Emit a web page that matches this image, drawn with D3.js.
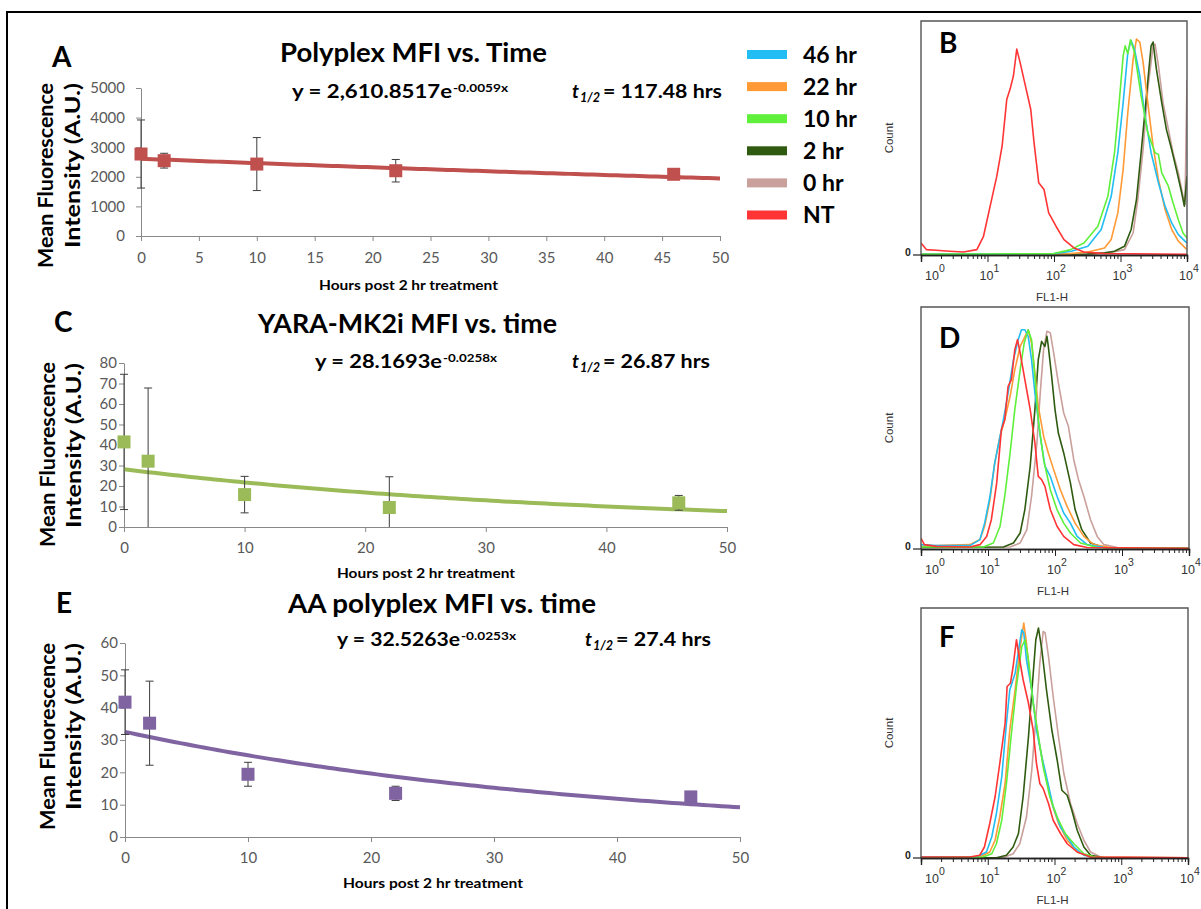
<!DOCTYPE html>
<html>
<head>
<meta charset="utf-8">
<script src="https://cdn.jsdelivr.net/npm/d3@7"></script>
<style>
  body { margin: 0; background: #fff; }
  svg { display: block; }
</style>
</head>
<body>
<svg id="fig" width="1201" height="909"></svg>
<script>
// ---------------- Time-course MFI data (hours after 2 hr treatment) ----------------
const hours = [0, 2, 10, 22, 46];

const polyplexMFI = [2770, 2545, 2430, 2205, 2085];
const polyplexSD  = [1150, 250, 895, 380, 0];
const polyplexFit = [2610.8517, 0.0059];     // y = A e^(-k x)

const mk2iMFI = [41.5, 32.1, 15.8, 9.5, 11.8];
const mk2iSD  = [33, 35.7, 8.9, 15, 3.6];
const mk2iFit = [28.1693, 0.0258];

const aaMFI = [41.7, 35.2, 19.4, 13.5, 12.4];
const aaSD  = [10, 13, 3.7, 2.2, 0.8];
const aaFit = [32.5263, 0.0253];

// ---------------- Flow cytometry histograms: [log10 FL1-H, % of max count] ----------------
const timeLabels = ["46 hr", "22 hr", "10 hr", "2 hr", "0 hr", "NT"];
const timeColors = ["#22bdf2", "#ff9a36", "#5ff03b", "#2f5b10", "#c9a09c", "#ff3434"];

// Panel B: polyplex
const bNT = [[0,5.1],[0.08,2.3],[0.23,2],[0.43,1.6],[0.64,1.3],[0.84,2.3],[0.94,8],[1.04,20.9],[1.14,33.7],[1.22,46.6],[1.29,66.6],[1.34,70.9],[1.39,76.6],[1.44,88],[1.49,82.3],[1.57,72.3],[1.65,62.3],[1.70,48],[1.77,30.9],[1.85,28],[1.92,18],[2.03,12.3],[2.15,6.6],[2.30,3],[2.45,1.3],[2.76,0.6],[4,0.3]];
const b0  = [[0,0.2],[2.5,0.3],[2.76,0.6],[3.06,2.3],[3.19,9.4],[3.26,23.7],[3.34,45.1],[3.41,70.9],[3.49,89.4],[3.52,90.1],[3.57,80.9],[3.64,65.1],[3.72,53.7],[3.79,43.7],[3.87,35.1],[3.94,25.1],[3.97,21.6],[4,75]];
const b2  = [[0,0.2],[2.5,0.4],[2.76,0.9],[2.91,1.6],[3.06,3.7],[3.16,10.9],[3.24,23.7],[3.31,43.7],[3.39,68],[3.46,89.4],[3.49,91],[3.54,79.4],[3.62,65.1],[3.69,53.7],[3.77,45],[3.84,36.6],[3.92,26.6],[3.96,20.9],[4,33.7]];
const b10 = [[0,0.3],[2,0.6],[2.25,2.3],[2.45,5.1],[2.66,12.3],[2.81,25.1],[2.91,43.7],[2.98,65.1],[3.04,85.1],[3.07,89.4],[3.11,86],[3.15,92],[3.21,86.6],[3.31,68],[3.41,52.3],[3.52,43.7],[3.57,43],[3.62,35.1],[3.72,29.4],[3.79,22.3],[3.87,15.1],[3.94,9.4],[4,7.3]];
const b22 = [[0,0.3],[2.2,0.5],[2.51,1.3],[2.76,3],[2.86,6.6],[2.96,18],[3.04,36.6],[3.11,60.9],[3.19,83.7],[3.24,92.3],[3.29,91],[3.34,82.3],[3.41,65.1],[3.49,46.6],[3.57,32.3],[3.67,19.4],[3.77,10.9],[3.87,5.9],[4,2.3]];
const b46 = [[0,0.3],[2,0.6],[2.26,1.6],[2.51,3.7],[2.71,10.9],[2.86,25.1],[2.96,43.7],[3.04,65.1],[3.11,86.6],[3.16,91.6],[3.21,88],[3.29,76.6],[3.36,60.9],[3.46,43.7],[3.57,30.9],[3.67,20.9],[3.77,13.7],[3.87,8.7],[4,5.1]];

// Panel D: YARA-MK2i
const dNT = [[0,4.5],[0.05,1.8],[0.23,1.1],[0.73,0.8],[0.88,1.8],[0.98,5.2],[1.05,12.1],[1.13,27.3],[1.2,49.3],[1.25,53.4],[1.3,67.2],[1.35,70],[1.4,82.4],[1.44,86.5],[1.48,81],[1.55,70],[1.63,57.6],[1.7,43.8],[1.75,30],[1.8,28.7],[1.85,25.9],[1.93,16.3],[2.03,9.4],[2.13,5.2],[2.28,1.8],[2.48,0.6],[4,0.3]];
const d0  = [[0,0.6],[1.33,0.8],[1.48,2.5],[1.58,8],[1.65,21.8],[1.73,43.8],[1.78,64.5],[1.83,82.4],[1.88,90],[1.93,89.3],[1.98,81],[2.05,68.6],[2.13,56.2],[2.2,50.7],[2.28,36.9],[2.35,28.7],[2.43,21.8],[2.53,12.1],[2.63,5.2],[2.73,1.8],[2.93,0.6],[4,0.3]];
const d2  = [[0,0.6],[1.23,0.8],[1.38,2.5],[1.48,6.6],[1.55,16.3],[1.63,34.2],[1.7,57.6],[1.75,78.2],[1.8,85.8],[1.85,83.7],[1.88,87.9],[1.9,83.7],[1.95,71.3],[2.0,57.6],[2.05,47.9],[2.13,39.7],[2.23,27.3],[2.3,16.3],[2.4,8],[2.53,2.5],[2.73,0.6],[4,0.3]];
const d10 = [[0,0.8],[0.93,0.8],[1.08,2.5],[1.18,9.4],[1.25,21.8],[1.33,39.7],[1.4,57.6],[1.48,74.1],[1.54,85.1],[1.6,90.6],[1.65,86.5],[1.7,71.3],[1.75,53.4],[1.83,36.9],[1.93,24.5],[2.03,16.3],[2.13,10.7],[2.23,6.6],[2.38,2.5],[2.63,0.6],[4,0.3]];
const d22 = [[0,1.1],[0.33,1.5],[0.73,1.8],[0.88,3.9],[0.95,9.4],[1.03,20.4],[1.1,35.5],[1.18,46.6],[1.25,53.4],[1.33,63.1],[1.4,74.1],[1.48,83.7],[1.53,86.5],[1.6,90.6],[1.65,85.1],[1.7,72.7],[1.75,59],[1.83,46.6],[1.9,39.7],[1.98,32.8],[2.08,24.5],[2.18,17.6],[2.3,10.7],[2.43,5.2],[2.58,1.8],[2.83,0.6],[4,0.3]];
const d46 = [[0,1.8],[0.23,1.4],[0.73,1.4],[0.88,3.9],[0.95,10.7],[1.03,21.8],[1.1,35.5],[1.18,46.6],[1.23,53.4],[1.3,64.5],[1.38,78.2],[1.45,86.5],[1.5,90.6],[1.55,90.6],[1.6,87.9],[1.65,78.2],[1.7,64.5],[1.78,46.6],[1.85,34.2],[1.93,30],[2.03,21.8],[2.13,14.9],[2.23,10.7],[2.33,5.2],[2.48,1.8],[2.73,0.6],[4,0.3]];

// Panel F: AA polyplex
const fNT = [[0,0.4],[0.73,0.4],[0.88,1.1],[0.95,4.4],[1.03,13.8],[1.11,24.5],[1.18,37.8],[1.26,53.9],[1.29,68.6],[1.34,69.9],[1.38,76.6],[1.43,87.3],[1.47,80.6],[1.53,71.3],[1.61,61.9],[1.68,51.2],[1.73,37.8],[1.78,29.8],[1.83,27.8],[1.91,21.8],[1.98,15.1],[2.09,9.8],[2.19,5.7],[2.34,2.4],[2.54,0.4],[4,0.1]];
const f0  = [[0,0.1],[1.23,0.1],[1.38,1.7],[1.48,5.7],[1.58,16.4],[1.66,35.2],[1.73,59.2],[1.78,77.9],[1.83,90.6],[1.86,90],[1.91,80.6],[1.98,64.6],[2.06,48.5],[2.14,33.8],[2.24,21.8],[2.34,13.8],[2.44,7.1],[2.54,2.4],[2.69,0.4],[4,0.1]];
const f2  = [[0,0.1],[1.13,0.1],[1.28,1.1],[1.38,4.4],[1.46,9.8],[1.53,24.5],[1.61,48.5],[1.67,69.9],[1.72,87.3],[1.76,92],[1.81,83.3],[1.88,67.2],[1.96,51.2],[2.04,39.2],[2.11,27.1],[2.19,25.1],[2.26,19.1],[2.34,11.1],[2.44,4.4],[2.54,1.1],[2.74,0.1],[4,0.1]];
const f10 = [[0,0.1],[0.93,0.4],[1.06,1.7],[1.13,5.7],[1.21,15.1],[1.28,29.8],[1.36,51.2],[1.43,68.6],[1.51,84.6],[1.56,87.3],[1.61,79.3],[1.68,61.9],[1.76,48.5],[1.83,36.5],[1.93,24.5],[2.04,16.4],[2.16,9.8],[2.29,5.7],[2.44,1.7],[2.64,0.1],[4,0.1]];
const f22 = [[0,0.4],[0.88,0.4],[1.03,2.4],[1.11,7.1],[1.18,16.4],[1.26,29.8],[1.33,51.2],[1.41,67.2],[1.48,83.3],[1.54,94],[1.58,86],[1.63,72.6],[1.71,56.6],[1.78,44.5],[1.86,33.8],[1.96,21.8],[2.06,13.8],[2.19,7.1],[2.34,2.4],[2.54,0.4],[4,0.1]];
const f46 = [[0,0.4],[0.83,0.4],[0.98,2.4],[1.06,8.4],[1.13,17.8],[1.21,32.5],[1.28,53.9],[1.33,67.2],[1.41,73.9],[1.47,84.6],[1.51,91.3],[1.54,90],[1.58,79.3],[1.66,67.2],[1.73,51.2],[1.81,40.5],[1.88,32.5],[1.98,20.5],[2.09,12.4],[2.19,8.4],[2.29,4.4],[2.44,1.1],[2.64,0.1],[4,0.1]];

// ---------------- drawing ----------------
const svg = d3.select("#fig");
const SANS = "Lato, 'Open Sans', sans-serif";
const ARIAL = "'Liberation Sans', Arial, sans-serif";

svg.append("rect").attr("width", 1201).attr("height", 909).attr("fill", "#fff");
svg.append("path").attr("d", "M7,909V12H1201")
  .attr("fill", "none").attr("stroke", "#000").attr("stroke-width", 2);

function addText(g, s, x, y, o = {}) {
  const t = g.append("text").attr("x", x).attr("y", y).text(s)
    .attr("font-family", o.family || SANS)
    .attr("font-size", o.size || 14)
    .attr("font-weight", o.weight || "normal")
    .attr("fill", o.fill || "#000");
  if (o.anchor) t.attr("text-anchor", o.anchor);
  if (o.italic) t.attr("font-style", "italic");
  if (o.len) t.attr("textLength", o.len).attr("lengthAdjust", "spacingAndGlyphs");
  if (o.rotate) t.attr("transform", `rotate(${o.rotate},${x},${y})`);
  return t;
}

// Exponential-decay panel with error bars and fitted trend line
function decayPanel(p) {
  const g = svg.append("g");
  const x = d3.scaleLinear().domain([0, 50]).range([p.left, p.right]);
  const y = d3.scaleLinear().domain([0, p.yMax]).range([p.bottom, p.top]);

  const xa = g.append("g").attr("transform", `translate(0,${p.bottom})`)
    .call(d3.axisBottom(x).tickValues(d3.range(0, 51, p.xStep)).tickSize(5).tickSizeOuter(0).tickPadding(p.xPad));
  const ya = g.append("g").attr("transform", `translate(${p.left},0)`)
    .call(d3.axisLeft(y).tickValues(d3.range(0, p.yMax + 1, p.yStep)).tickSize(5).tickSizeOuter(0)
      .tickPadding(p.yPad).tickFormat(d3.format("d")));
  [xa, ya].forEach(a => {
    a.select(".domain").attr("stroke", "#898989");
    a.selectAll(".tick line").attr("stroke", "#898989");
    a.selectAll(".tick text").attr("fill", "#595959").attr("font-family", SANS).attr("font-size", 15);
  });

  // fitted exponential y = A e^(-k t)
  const [A, k] = p.fit;
  const fitPts = d3.range(0, 50.01, 0.5).map(t => [t, A * Math.exp(-k * t)]);
  g.append("path").datum(fitPts)
    .attr("d", d3.line().x(d => x(d[0])).y(d => y(d[1])))
    .attr("fill", "none").attr("stroke", p.color).attr("stroke-width", 4);

  // error bars (clipped to the plot floor)
  const rows = hours.map((h, i) => ({ h, v: p.values[i], e: p.sd[i] }));
  rows.filter(r => r.e > 0).forEach(r => {
    const lo = r.v - r.e, hi = r.v + r.e;
    const y0 = y(Math.max(0, lo)), y1 = y(Math.min(p.yMax, hi));
    g.append("line").attr("x1", x(r.h)).attr("x2", x(r.h)).attr("y1", y0).attr("y2", y1)
      .attr("stroke", "#3d3d3d").attr("stroke-width", 1);
    const caps = [hi];
    if (lo >= 0) caps.push(lo);
    caps.forEach(c => g.append("line").attr("x1", x(r.h) - 4).attr("x2", x(r.h) + 4)
      .attr("y1", y(c)).attr("y2", y(c)).attr("stroke", "#3d3d3d").attr("stroke-width", 1));
  });

  // square markers
  g.selectAll("rect.pt").data(rows).join("rect").attr("class", "pt")
    .attr("x", d => x(d.h) - 6.5).attr("y", d => y(d.v) - 6.5)
    .attr("width", 13).attr("height", 13).attr("fill", p.color);

  // titles and annotations
  addText(g, p.letter, p.letterX, p.letterY, { size: 28, weight: "bold" });
  addText(g, p.title, p.titleX, p.titleY, { size: 26, weight: "bold", len: p.titleLen });
  addText(g, p.eq, p.eqX, p.eqY, { size: 19, weight: "bold", len: p.eqLen });
  addText(g, p.eqSup, p.supX, p.eqY - 6.5, { size: 12, weight: "bold", len: p.supLen });
  addText(g, "t", p.tX, p.eqY, { size: 19, weight: "bold", italic: true });
  addText(g, "1/2", p.tX + 8, p.eqY + 4, { size: 13, weight: "bold", italic: true, len: 20 });
  addText(g, p.half, p.tX + 31, p.eqY, { size: 19, weight: "bold", len: p.halfLen });
  addText(g, "Hours post 2 hr treatment", p.xtX, p.xtY, { size: 14, weight: "bold", len: p.xtLen });
  addText(g, "Mean Fluorescence", p.yt1X, p.yt1Y, { size: 20.5, weight: "bold", rotate: -90, len: p.yt1Len });
  addText(g, "Intensity (A.U.)", p.yt2X, p.yt2Y, { size: 20.5, weight: "bold", rotate: -90, len: p.yt2Len });
}

decayPanel({
  left: 141, right: 720, bottom: 236, top: 88, yMax: 5000, xStep: 5, yStep: 1000, xPad: 11, yPad: 11,
  values: polyplexMFI, sd: polyplexSD, fit: polyplexFit, color: "#c0504d",
  letter: "A", letterX: 52, letterY: 67,
  title: "Polyplex MFI vs. Time", titleX: 280, titleY: 62, titleLen: 267,
  eq: "y = 2,610.8517e", eqX: 292, eqY: 98, eqLen: 160, eqSup: "-0.0059x", supX: 453, supLen: 55,
  tX: 572, half: "= 117.48 hrs", halfLen: 119,
  xtX: 319, xtY: 290, xtLen: 179,
  yt1X: 53, yt1Y: 268, yt1Len: 185, yt2X: 80, yt2Y: 248, yt2Len: 165
});

decayPanel({
  left: 124, right: 727, bottom: 527, top: 363, yMax: 80, xStep: 10, yStep: 10, xPad: 10, yPad: 2,
  values: mk2iMFI, sd: mk2iSD, fit: mk2iFit, color: "#9bbb59",
  letter: "C", letterX: 54, letterY: 332,
  title: "YARA-MK2i MFI vs. time", titleX: 258, titleY: 333, titleLen: 299,
  eq: "y = 28.1693e", eqX: 315, eqY: 368, eqLen: 127, eqSup: "-0.0258x", supX: 443, supLen: 54,
  tX: 572, half: "= 26.87 hrs", halfLen: 107,
  xtX: 337, xtY: 578, xtLen: 178,
  yt1X: 55, yt1Y: 547, yt1Len: 185, yt2X: 81, yt2Y: 528, yt2Len: 165
});

decayPanel({
  left: 125, right: 740, bottom: 837, top: 643, yMax: 60, xStep: 10, yStep: 10, xPad: 10, yPad: 2,
  values: aaMFI, sd: aaSD, fit: aaFit, color: "#8064a2",
  letter: "E", letterX: 56, letterY: 613,
  title: "AA polyplex MFI vs. time", titleX: 288, titleY: 613, titleLen: 308,
  eq: "y = 32.5263e", eqX: 337, eqY: 646, eqLen: 123, eqSup: "-0.0253x", supX: 461, supLen: 55,
  tX: 585, half: "= 27.4 hrs", halfLen: 95,
  xtX: 343, xtY: 888, xtLen: 180,
  yt1X: 55, yt1Y: 830, yt1Len: 187, yt2X: 81, yt2Y: 810, yt2Len: 167
});

// ---------------- legend ----------------
const legend = svg.append("g");
const legendY = d3.scalePoint().domain(timeLabels).range([54.5, 215]);
timeLabels.forEach((lab, i) => {
  legend.append("rect").attr("x", 747).attr("y", legendY(lab) - 4.5).attr("width", 40).attr("height", 9)
    .attr("fill", timeColors[i]);
  addText(legend, lab, 803, legendY(lab) + 8, { size: 23, weight: "bold" });
});

// ---------------- flow histograms ----------------
function histPanel(p) {
  const g = svg.append("g");
  const x = d3.scaleLog().domain([1, 1e4]).range([p.left, p.right]);
  const y = d3.scaleLinear().domain([0, 100]).range([p.bottom, p.top]);
  const clipId = "clip" + p.letter;
  g.append("clipPath").attr("id", clipId).append("rect")
    .attr("x", p.left).attr("y", p.top).attr("width", p.right - p.left).attr("height", p.bottom - p.top);

  const line = d3.line().x(d => x(Math.pow(10, d[0]))).y(d => y(d[1]));
  const order = [4, 3, 1, 0, 2, 5]; // 0 hr, 2 hr, 22 hr, 46 hr, 10 hr, NT
  const cg = g.append("g").attr("clip-path", `url(#${clipId})`);
  order.forEach(i => {
    cg.append("path").datum(p.curves[i]).attr("d", line)
      .attr("fill", "none").attr("stroke", timeColors[i]).attr("stroke-width", 1.6)
      .attr("stroke-linejoin", "round");
  });

  // frame
  g.append("path").attr("d", `M${p.left},${p.bottom}V${p.top}H${p.right}V${p.bottom}`)
    .attr("fill", "none").attr("stroke", "#555").attr("stroke-width", 1.4);

  // log axis: major decade ticks and minor ticks
  const majors = [1, 10, 100, 1000, 10000];
  const minors = [];
  [1, 10, 100, 1000].forEach(dec => d3.range(2, 10).forEach(m => minors.push(m * dec)));
  const ax1 = g.append("g").attr("transform", `translate(0,${p.bottom})`)
    .call(d3.axisBottom(x).tickValues(majors).tickSize(7).tickFormat(""));
  const ax2 = g.append("g").attr("transform", `translate(0,${p.bottom})`)
    .call(d3.axisBottom(x).tickValues(minors).tickSize(4).tickFormat(""));
  [ax1, ax2].forEach(a => {
    a.select(".domain").attr("stroke", "#222").attr("stroke-width", 1.4);
    a.selectAll(".tick line").attr("stroke", "#222");
  });
  g.append("line").attr("x1", p.left - 8).attr("x2", p.left).attr("y1", p.bottom).attr("y2", p.bottom)
    .attr("stroke", "#222").attr("stroke-width", 1.2);
  addText(g, "0", p.left - 13, p.bottom + 1, { family: ARIAL, size: 10.5, weight: "bold", fill: "#222", anchor: "middle" });

  majors.forEach((v, i) => {
    const cx = x(v) + (i === 0 ? 12 : 0);
    addText(g, "10", cx - 1, p.bottom + 25, { family: ARIAL, size: 12.5, fill: "#333", anchor: "middle" });
    addText(g, String(i), cx + 6, p.bottom + 17, { family: ARIAL, size: 10.5, fill: "#333" });
  });
  addText(g, "FL1-H", (p.left + p.right) / 2 - 2, p.bottom + 46, { family: ARIAL, size: 11.5, fill: "#333", anchor: "middle" });
  addText(g, "Count", p.left - 28, (p.top + p.bottom) / 2, { family: ARIAL, size: 11.5, fill: "#333", anchor: "middle", rotate: -90 });
  addText(g, p.letter, p.left + 18, p.top + p.letterDy, { size: 28, weight: "bold" });
}

histPanel({ letter: "B", left: 921, right: 1187, top: 21, bottom: 255, letterDy: 32,
  curves: [b46, b22, b10, b2, b0, bNT] });
histPanel({ letter: "D", left: 921, right: 1189, top: 307, bottom: 549, letterDy: 41,
  curves: [d46, d22, d10, d2, d0, dNT] });
histPanel({ letter: "F", left: 921, right: 1188, top: 608, bottom: 858, letterDy: 39,
  curves: [f46, f22, f10, f2, f0, fNT] });
</script>
</body>
</html>
